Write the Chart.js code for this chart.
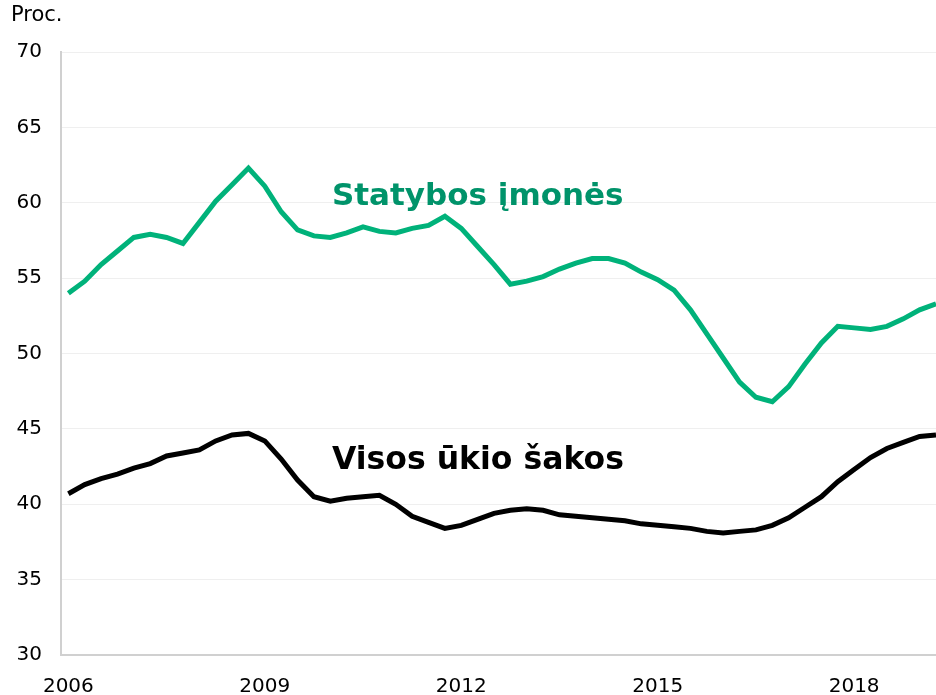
<!DOCTYPE html>
<html>
<head>
<meta charset="utf-8">
<script src="https://cdn.jsdelivr.net/npm/chart.js@4"></script>
<style>
  html, body { margin: 0; padding: 0; background: #fff; }
  #wrap { width: 936px; height: 695px; position: relative; }
</style>
</head>
<body>
<div id="wrap"><canvas id="myChart"></canvas></div>
<script>
'use strict';

/* DATA */

// quarters 2006 Q1 .. 2019 Q2
var quarters = [];
for (var y = 2006; y <= 2019; y++) {
  for (var q = 1; q <= 4; q++) {
    if (y === 2019 && q > 2) break;
    quarters.push(y + ' Q' + q);
  }
}

var yearTicks = ['2006', '2009', '2012', '2015', '2018'];

var statybos = [
  54.0, 54.8, 55.9, 56.8, 57.7, 57.9, 57.7, 57.3, 58.7, 60.1,
  61.2, 62.3, 61.1, 59.4, 58.2, 57.8, 57.7, 58.0, 58.4, 58.1,
  58.0, 58.3, 58.5, 59.1, 58.3, 57.1, 55.9, 54.6, 54.8, 55.1,
  55.6, 56.0, 56.3, 56.3, 56.0, 55.4, 54.9, 54.2, 52.9, 51.3,
  49.7, 48.1, 47.1, 46.8, 47.8, 49.3, 50.7, 51.8, 51.7, 51.6,
  51.8, 52.3, 52.9, 53.3
];

var visos = [
  40.7, 41.3, 41.7, 42.0, 42.4, 42.7, 43.2, 43.4, 43.6, 44.2,
  44.6, 44.7, 44.2, 43.0, 41.6, 40.5, 40.2, 40.4, 40.5, 40.6,
  40.0, 39.2, 38.8, 38.4, 38.6, 39.0, 39.4, 39.6, 39.7, 39.6,
  39.3, 39.2, 39.1, 39.0, 38.9, 38.7, 38.6, 38.5, 38.4, 38.2,
  38.1, 38.2, 38.3, 38.6, 39.1, 39.8, 40.5, 41.5, 42.3, 43.1,
  43.7, 44.1, 44.5, 44.6
];

function toPoints(arr) {
  return arr.map(function(v, i) { return { x: i, y: v }; });
}

/* LABELS */

var textPlugin = {
  id: 'texts',
  afterDraw: function(chart) {
    var c = chart.ctx;
    var xs = chart.scales.x, ys = chart.scales.y;
    c.save();
    c.textAlign = 'left';
    c.textBaseline = 'top';
    c.fillStyle = '#000';
    c.font = '21px "DejaVu Sans"';
    c.fillText('Proc.', 11, 5);

    c.textBaseline = 'alphabetic';
    c.fillStyle = '#00936A';
    c.font = 'bold 31px "DejaVu Sans"';
    c.fillText('Statybos įmonės', xs.getPixelForValue(16.1), ys.getPixelForValue(59.85));
    c.fillStyle = '#000';
    c.font = 'bold 31.5px "DejaVu Sans"';
    c.fillText('Visos ūkio šakos', xs.getPixelForValue(16.1), ys.getPixelForValue(42.33));
    c.restore();
  }
};

/* CHART */

var ctx = document.getElementById('myChart').getContext('2d');
var chart = new Chart(ctx, {
  type: 'line',
  data: {
    datasets: [{
      label: 'Statybos įmonės',
      data: toPoints(statybos),
      borderColor: '#00B27A',
      borderWidth: 5,
      pointRadius: 0,
      tension: 0,
    },
    {
      label: 'Visos ūkio šakos',
      data: toPoints(visos),
      borderColor: '#000000',
      borderWidth: 5,
      pointRadius: 0,
      tension: 0,
    }]
  },
  options: {
    responsive: true,
    maintainAspectRatio: false,
    animation: false,
    layout: { padding: { top: 52, left: 0, right: 0, bottom: 0 } },
    plugins: {
      legend: { display: false },
      tooltip: { enabled: false },
    },
    scales: {
      x: {
        type: 'linear',
        min: -0.45,
        max: 53,
        grid: { display: false, drawTicks: false },
        border: { color: '#D0D0D0', width: 2 },
        afterBuildTicks: function(scale) {
          scale.ticks = yearTicks.map(function(t, i) { return { value: i * 12 }; });
        },
        afterFit: function(scale) { scale.height = 40; },
        ticks: {
          autoSkip: false,
          maxRotation: 0,
          padding: 20,
          color: '#000',
          font: { family: 'DejaVu Sans', size: 20 },
          callback: function(value) { return yearTicks[Math.round(value / 12)]; },
        },
      },
      y: {
        min: 30,
        max: 70,
        grid: { color: '#EFEFEF', lineWidth: 1, drawTicks: false },
        border: { color: '#D0D0D0', width: 2 },
        afterFit: function(scale) { scale.width = 61; },
        ticks: {
          stepSize: 5,
          padding: 19,
          color: '#000',
          font: { family: 'DejaVu Sans', size: 20 },
        },
      }
    }
  },
  plugins: [textPlugin]
});
</script>
</body>
</html>
